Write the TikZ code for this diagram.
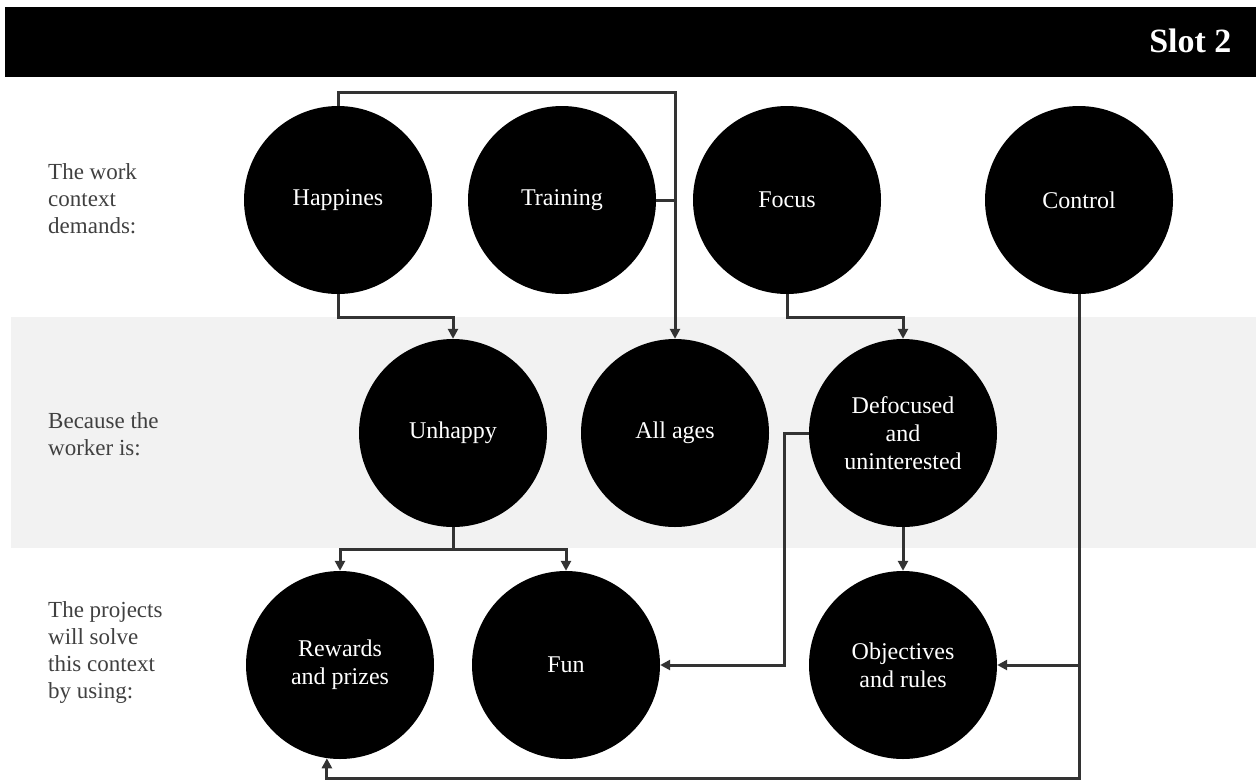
\documentclass[tikz,border=0pt]{standalone}
\usepackage{fontspec}
\setmainfont{Liberation Serif}
\usetikzlibrary{arrows.meta}
\definecolor{bandgray}{HTML}{F2F2F2}
\definecolor{linegray}{HTML}{333333}
\definecolor{textgray}{HTML}{404040}

\begin{document}
\begin{tikzpicture}[x=1pt,y=-1pt,
  bubble/.style={circle,fill=black,minimum size=188pt,inner sep=0pt,text=white,
    align=center,font=\fontsize{24}{28}\selectfont},
  link/.style={draw=linegray,line width=3pt,-{Triangle[length=10pt,width=10pt]}},
  joinline/.style={draw=linegray,line width=3pt},
  sidetext/.style={anchor=west,align=left,inner sep=0pt,text=textgray,
    font=\fontsize{23}{27}\selectfont}]
\useasboundingbox (0,0) rectangle (1256,780);
\fill (5,7) rectangle (1256,77);
\fill[bandgray] (11,317) rectangle (1256,548);
\node[anchor=east,text=white,font=\fontsize{34}{38}\selectfont\bfseries] (slot) at (1235,41) {Slot 2};
\node[sidetext] (rowa) at (48,199) {The work\\context\\demands:};
\node[sidetext] (rowb) at (48,434) {Because the\\worker is:};
\node[sidetext] (rowc) at (48,652) {The projects\\will solve\\this context\\by using:};
\node[bubble] (hap) at (338,200) {Happines};
\node[bubble] (trn) at (562,200) {Training};
\node[bubble] (foc) at (787,200) {Focus};
\node[bubble] (ctl) at (1079,200) {Control};
\node[bubble] (unh) at (453,433) {Unhappy};
\node[bubble] (age) at (675,433) {All ages};
\node[bubble] (dfc) at (903,433) {Defocused\\and\\uninterested};
\node[bubble] (rew) at (340,665) {Rewards\\and prizes};
\node[bubble] (fun) at (566,665) {Fun};
\node[bubble] (obj) at (903,665) {Objectives\\and rules};
\draw[link] (hap.north) -- ++(0,-13) -| (age.north);
\draw[joinline] (trn.east) -- (trn.east -| age.north);
\draw[link] (hap.south) -- ++(0,23) -| (unh.north);
\draw[link] (foc.south) -- ++(0,23) -| (dfc.north);
\draw[link] (unh.south) -- ++(0,22) -| (rew.north);
\draw[link] (unh.south) -- ++(0,22) -| (fun.north);
\draw[link] (dfc.south) -- (obj.north);
\draw[link] (dfc.west) -- ++(-24,0) |- (fun.east);
\draw[link] (ctl.south) -- ++(0,484) -| (rew.262);
\draw[link] (ctl.south |- obj.east) -- (obj.east);
\end{tikzpicture}
\end{document}
